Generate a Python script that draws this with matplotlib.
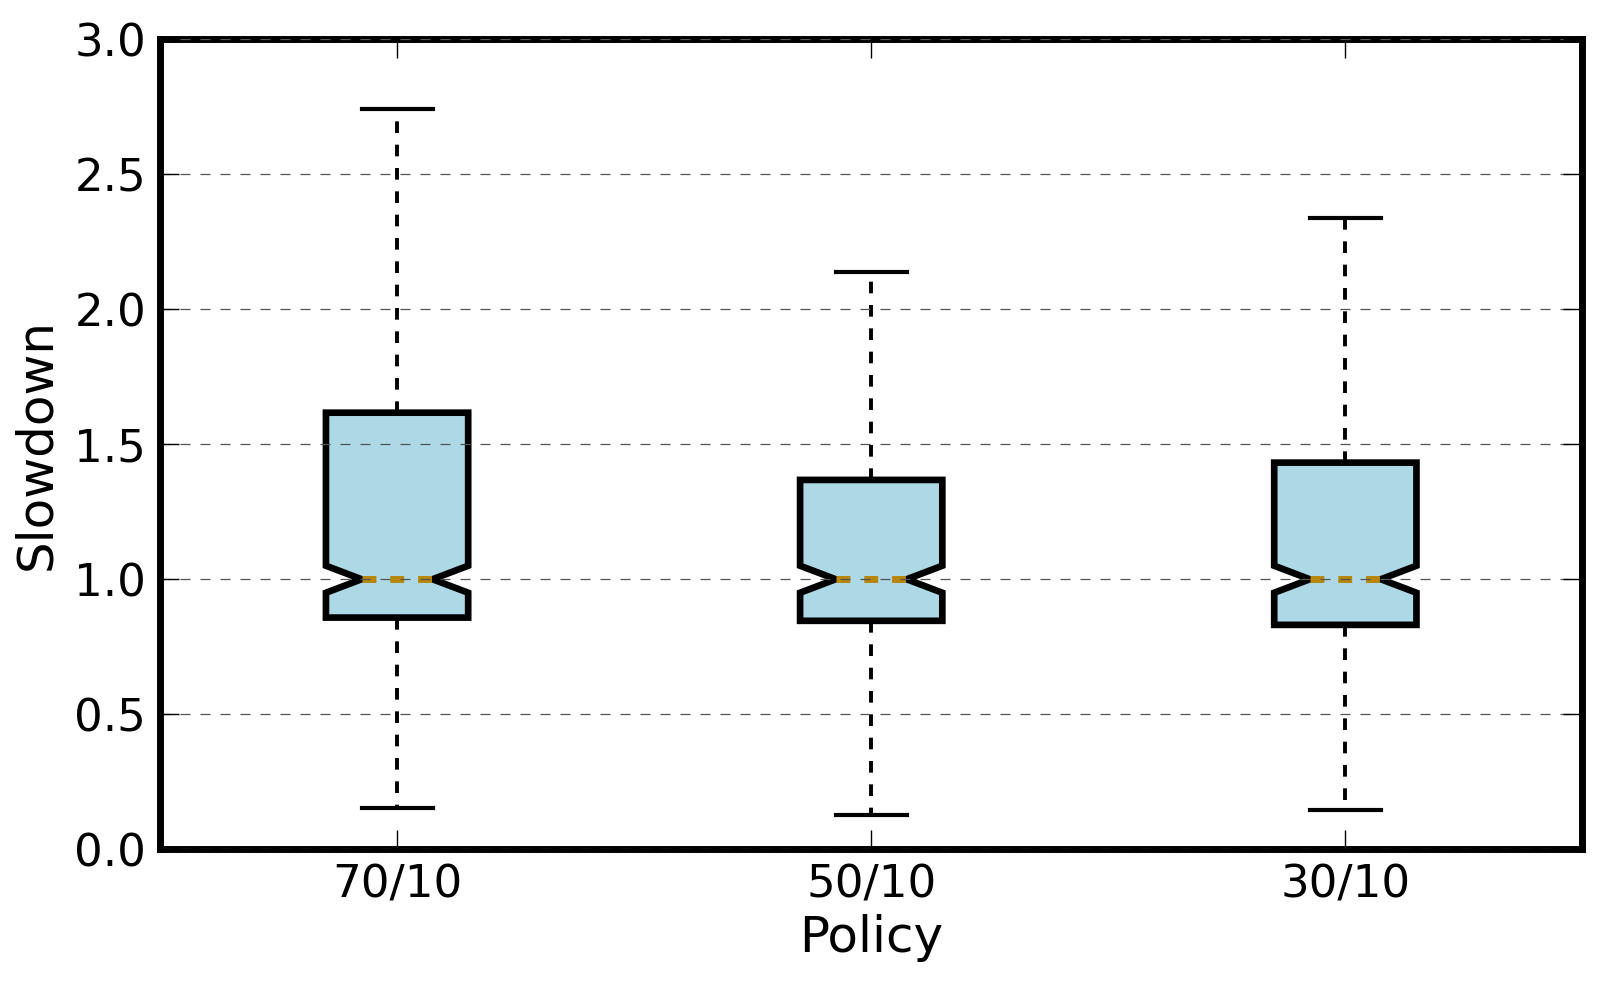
import matplotlib
matplotlib.use("Agg")
import matplotlib.pyplot as plt

# valores
politicas = ['70/10', '50/10', '30/10']
mediana = [1.0, 1.0, 1.0]
q1 = [0.858, 0.846, 0.831]
q3 = [1.617, 1.368, 1.432]
bigode_min = [0.151, 0.128, 0.147]
bigode_max = [2.743, 2.138, 2.338]
notch_lo = [0.95, 0.95, 0.95]
notch_hi = [1.05, 1.05, 1.05]

stats = []
for i in range(len(politicas)):
    stats.append({
        'label': politicas[i],
        'med': mediana[i],
        'q1': q1[i],
        'q3': q3[i],
        'whislo': bigode_min[i],
        'whishi': bigode_max[i],
        'cilo': notch_lo[i],
        'cihi': notch_hi[i],
        'fliers': [],
    })

fig = plt.figure(figsize=(16, 9.84), dpi=100)
ax = fig.add_axes([0.1, 0.137, 0.889, 0.823])

ax.bxp(stats, positions=[1, 2, 3], widths=0.3, shownotches=True,
       patch_artist=True,
       boxprops=dict(facecolor='lightblue', edgecolor='black', linewidth=4.8),
       whiskerprops=dict(color='black', linestyle=(0, (3, 3)), linewidth=2.8),
       capprops=dict(color='black', linewidth=3),
       medianprops=dict(color='darkgoldenrod', linestyle=(0, (2, 2)), linewidth=5))

ax.set_xlim(0.5, 3.5)
ax.set_ylim(0, 3.0)
ax.set_yticks([0.0, 0.5, 1.0, 1.5, 2.0, 2.5, 3.0])
ax.set_yticklabels(['0.0', '0.5', '1.0', '1.5', '2.0', '2.5', '3.0'])
ax.set_axisbelow(False)
ax.yaxis.grid(True, linestyle=(0, (8, 8)), color='#555555', linewidth=0.9)

for s in ax.spines.values():
    s.set_linewidth(5)

ax.tick_params(direction='in', length=14, width=1, top=True, right=True,
               labelsize=32.5, pad=10)
ax.set_xlabel('Policy', fontsize=36, labelpad=6)
ax.set_ylabel('Slowdown', fontsize=36, labelpad=10)

plt.savefig('out.png', dpi=100)
